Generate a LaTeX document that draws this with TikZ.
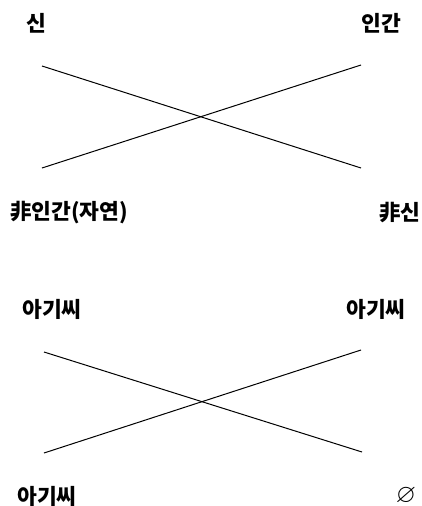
\documentclass[tikz,border=0pt]{standalone}
\usepackage{amssymb}
\usepackage{fontspec}
\newfontfamily\kr{Noto Sans CJK KR}
\usetikzlibrary{calc}

\tikzset{
  term/.style={font=\kr\bfseries\fontsize{21.5}{21.5}\selectfont, inner sep=0pt},
  axis/.style={line width=1pt}
}

\begin{document}
\begin{tikzpicture}[x=1pt,y=-1pt]
\useasboundingbox (0,0) rectangle (422,506);

% First square: god / human
\node[term] (god) at (36,23) {신};
\node[term] (human) at (381,23) {인간};
\node[term] (nonhuman) at (69,213) {非인간(자연)};
\node[term] (nongod) at (400,213) {非신};

\coordinate (a1) at (42,66);
\coordinate (b1) at (361,65);
\coordinate (c1) at (42,168);
\coordinate (d1) at (361,168);
\draw[axis] (a1) -- (d1);
\draw[axis] (c1) -- (b1);

% Second square: agassi
\node[term] (agtl) at (52,309) {아기씨};
\node[term] (agtr) at (376,309) {아기씨};
\node[term] (agbl) at (47,496) {아기씨};
\node[inner sep=0pt, font=\fontsize{26}{26}\selectfont] (empty) at (406,496) {$\varnothing$};

\coordinate (a2) at (44,352);
\coordinate (b2) at (361,350);
\coordinate (c2) at (44,453);
\coordinate (d2) at (362,452);
\draw[axis] (a2) -- (d2);
\draw[axis] (c2) -- (b2);

\end{tikzpicture}
\end{document}
